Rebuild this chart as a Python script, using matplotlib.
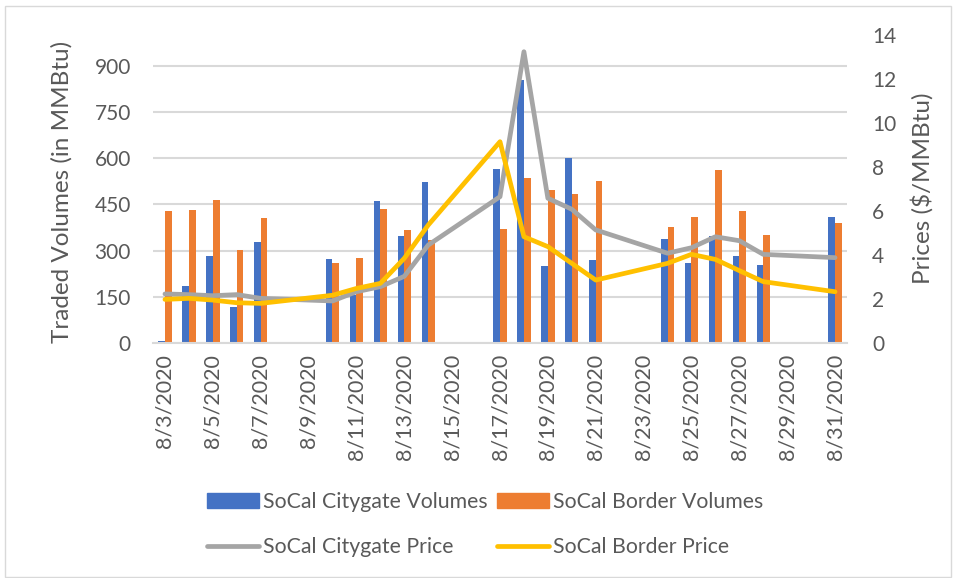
import numpy as np
import matplotlib
matplotlib.use("Agg")
import matplotlib.pyplot as plt
from matplotlib.patches import Rectangle, Patch
from matplotlib.lines import Line2D

plt.rcParams['font.family'] = ['Lato', 'DejaVu Sans']

# ---- data ----
dates = [f"8/{d}/2020" for d in range(3, 32)]
nan = np.nan
citygate_vol = [6, 184, 283, 118, 329, nan, nan,
                272, 157, 461, 347, 523, nan, nan,
                565, 854, 250, 601, 271, nan, nan,
                337, 259, 348, 282, 253, nan, nan,
                408]
border_vol = [427, 431, 465, 301, 407, nan, nan,
              260, 276, 436, 366, 335, nan, nan,
              369, 535, 497, 484, 525, nan, nan,
              376, 410, 562, 427, 350, nan, nan,
              389]
citygate_price = [2.23, 2.20, 2.15, 2.20, 2.03, nan, nan,
                  1.91, 2.33, 2.56, 3.03, 4.45, nan, nan,
                  6.65, 13.24, 6.58, 6.08, 5.14, nan, nan,
                  4.08, 4.33, 4.83, 4.65, 4.03, nan, nan,
                  3.88]
border_price = [1.98, 2.03, 1.95, 1.83, 1.80, nan, nan,
                2.17, 2.48, 2.71, 3.85, 5.36, nan, nan,
                9.15, 4.83, 4.38, 3.62, 2.86, nan, nan,
                3.62, 4.03, 3.80, 3.29, 2.79, nan, nan,
                2.33]
tick_labels = dates[::2]

BLUE = '#4472C4'
ORANGE = '#ED7D31'
GRAY = '#A5A5A5'
YELLOW = '#FFC000'
TXT = '#595959'
GRID = '#D9D9D9'

fig = plt.figure(figsize=(9.56, 5.78), dpi=100)
fig.patches.append(Rectangle((5/956, 1-577/578), 946/956, 571/578,
                             transform=fig.transFigure, fill=False,
                             edgecolor=GRID, linewidth=1.0))

ax = fig.add_axes([153/956, 1-343/578, (847-153)/956, (343-35)/578])
ax2 = ax.twinx()

x = np.arange(len(dates))
w = 0.28
ax.bar(x - 0.14, citygate_vol, width=w, color=BLUE, zorder=2)
ax.bar(x + 0.14, border_vol, width=w, color=ORANGE, zorder=2)

cp = np.array(citygate_price)
bp = np.array(border_price)
m1 = ~np.isnan(cp)
m2 = ~np.isnan(bp)
ax2.plot(x[m1], cp[m1], color=GRAY, lw=3.4, solid_joinstyle='round',
         solid_capstyle='round', zorder=3)
ax2.plot(x[m2], bp[m2], color=YELLOW, lw=3.4, solid_joinstyle='round',
         solid_capstyle='round', zorder=4)

ax.set_xlim(-0.5, len(dates) - 0.5)
ax.set_ylim(0, 1000)
ax.set_yticks(np.arange(0, 901, 150))
ax2.set_ylim(0, 14)
ax2.set_yticks(np.arange(0, 15, 2))

ax.set_xticks(x[::2])
ax.set_xticklabels(tick_labels, rotation=90, ha='center', va='top')

ax.yaxis.grid(True, color=GRID, linewidth=1.5, zorder=0)
ax.set_axisbelow(True)
for a in (ax, ax2):
    for s in a.spines.values():
        s.set_visible(False)
ax.spines['bottom'].set_visible(True)
ax.spines['bottom'].set_color(GRID)
ax.spines['bottom'].set_linewidth(1.5)

ax.tick_params(axis='x', length=0, pad=8, labelsize=15.5, labelcolor=TXT)
ax.tick_params(axis='y', length=0, pad=16, labelsize=15, labelcolor=TXT)
ax2.tick_params(axis='y', length=0, pad=18, labelsize=15, labelcolor=TXT)

fig.text(62/956, 1-192/578, 'Traded Volumes (in MMBtu)', rotation=90,
         ha='center', va='center', fontsize=17.5, color=TXT)
fig.text(922/956, 1-188/578, 'Prices ($/MMBtu)', rotation=90,
         ha='center', va='center', fontsize=17.5, color=TXT)

handles = [Patch(color=BLUE), Line2D([], [], color=GRAY, lw=3.4, solid_capstyle='round'),
           Patch(color=ORANGE), Line2D([], [], color=YELLOW, lw=3.4, solid_capstyle='round')]
labels = ['SoCal Citygate Volumes', 'SoCal Citygate Price',
          'SoCal Border Volumes', 'SoCal Border Price']
leg = fig.legend(handles, labels, ncol=2, loc='center',
                 bbox_to_anchor=(485/956, 1-524.5/578), frameon=False,
                 fontsize=15.3, labelcolor=TXT, handlelength=2.45,
                 handletextpad=0.2, columnspacing=0.42, labelspacing=1.22,
                 borderpad=0)

fig.savefig('out.png', dpi=100)
